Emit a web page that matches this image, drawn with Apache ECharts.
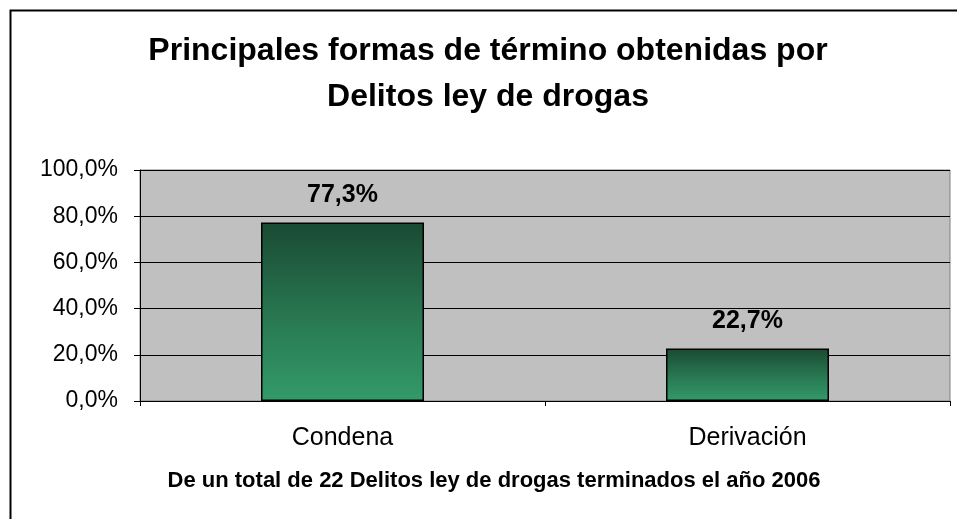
<!DOCTYPE html>
<html>
<head>
<meta charset="utf-8">
<script src="https://cdn.jsdelivr.net/npm/echarts@6/dist/echarts.min.js"></script>
<style>html,body{margin:0;padding:0;background:#fff}#c{width:957px;height:519px}</style>
</head>
<body>
<div id="c"></div>
<script>
var categories = ['Condena', 'Derivación'];
var values = [77.3, 22.7];
var yTicks = [0, 20, 40, 60, 80, 100];
var titleText = 'Principales formas de término obtenidas por\nDelitos ley de drogas';
var subtitleText = 'De un total de 22 Delitos ley de drogas terminados el año 2006';

function pct(v) { return v.toFixed(1).replace('.', ',') + '%'; }

var FONT = 'Liberation Sans, Arial, sans-serif';
var chart = echarts.init(document.getElementById('c'), null, {renderer: 'canvas'});
chart.setOption({
  animation: false,
  backgroundColor: '#fff',
  graphic: [{
    type: 'rect', left: 8, top: 8, shape: {width: 1000, height: 600},
    style: {fill: 'none', stroke: '#000', lineWidth: 2}, z: -1
  }],
  title: [{
    text: titleText, left: 488, top: 28, textAlign: 'center', padding: 0,
    textStyle: {fontFamily: FONT, fontWeight: 'bold', fontSize: 32, lineHeight: 46, color: '#000'}
  }, {
    text: subtitleText, left: 494, top: 470, textAlign: 'center', padding: 0,
    textStyle: {fontFamily: FONT, fontWeight: 'bold', fontSize: 22, lineHeight: 22, color: '#000'}
  }],
  grid: {left: 140, right: 7, top: 170, bottom: 118, show: true, backgroundColor: '#c0c0c0', borderColor: '#808080', borderWidth: 1},
  xAxis: {
    type: 'category', data: categories,
    axisLine: {lineStyle: {color: '#000', width: 1}},
    axisTick: {show: true, length: 5, lineStyle: {color: '#000'}},
    axisLabel: {fontFamily: FONT, fontSize: 25, color: '#000', margin: 25}
  },
  yAxis: {
    type: 'value', min: yTicks[0], max: yTicks[yTicks.length - 1], interval: 20,
    axisLine: {show: true, lineStyle: {color: '#000', width: 1}},
    axisTick: {show: true, length: 6, lineStyle: {color: '#000'}},
    splitLine: {lineStyle: {color: '#000', width: 1}},
    axisLabel: {fontFamily: FONT, fontSize: 23, color: '#000', margin: 22, formatter: pct}
  },
  series: [{
    type: 'bar', data: values, barWidth: 163,
    itemStyle: {
      color: new echarts.graphic.LinearGradient(0, 0, 0, 1, [
        {offset: 0, color: '#1a4a33'},
        {offset: 0.6, color: '#2a7d55'},
        {offset: 1, color: '#339a69'}
      ]),
      borderColor: '#000', borderWidth: 1.5
    },
    label: {
      show: true, position: 'top', distance: 15,
      fontFamily: FONT, fontWeight: 'bold', fontSize: 25, color: '#000',
      formatter: function (p) { return pct(p.value); }
    }
  }]
});
</script>
</body>
</html>
